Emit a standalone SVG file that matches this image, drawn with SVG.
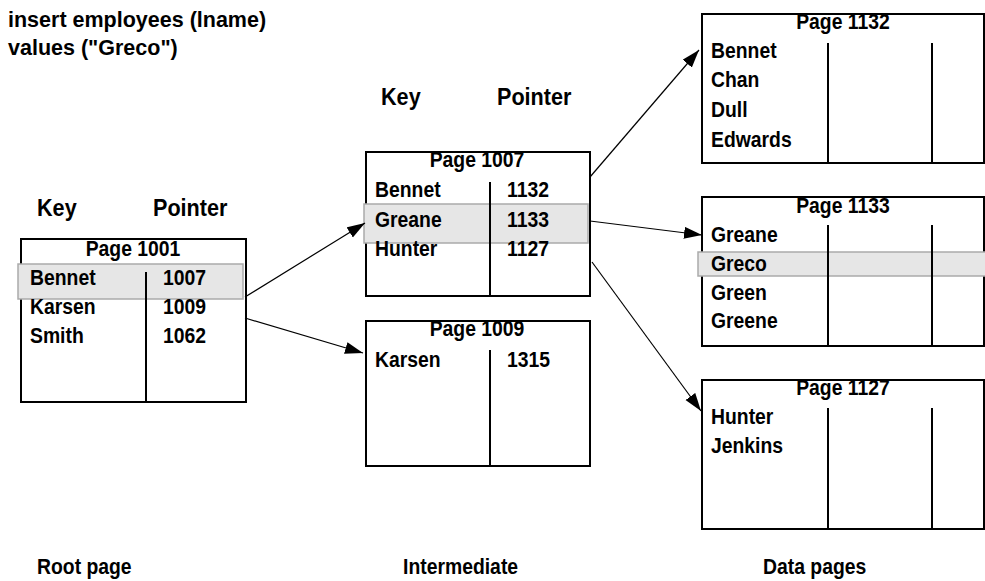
<svg xmlns="http://www.w3.org/2000/svg" width="985" height="581" viewBox="0 0 985 581">
  <defs>
    <marker id="arrow" markerUnits="userSpaceOnUse" markerWidth="20" markerHeight="14" refX="18" refY="6" orient="auto">
      <path d="M0,0 L18,6 L0,12 Z" fill="#000"/>
    </marker>
    <style>
      text { font-family: "Liberation Sans", Arial, sans-serif; font-weight: bold; font-size: 22px; fill: #000; }
      .stmt { font-size: 21.5px; }
      .head { font-size: 23px; }
      .title { text-anchor: middle; }
      .box { fill: #fff; stroke: #000; stroke-width: 2; }
      .div { stroke: #000; stroke-width: 2; }
      .hl { fill: #e6e6e6; stroke: #aaa; stroke-width: 1.5; }
      .conn { stroke: #000; stroke-width: 1.2; fill: none; marker-end: url(#arrow); }
    </style>
  </defs>
  <rect width="985" height="581" fill="#fff"/>

  <!-- statement being executed -->
  <g id="statement">
    <text class="stmt" x="8" y="27">insert employees (lname)</text>
    <text class="stmt" x="8" y="55">values ("Greco")</text>
  </g>

  <!-- column headings (condensed via horizontal scale) -->
  <g id="headings">
    <text class="head" transform="translate(37,216) scale(0.94,1)">Key</text>
    <text class="head" transform="translate(153,216) scale(0.94,1)">Pointer</text>
    <text class="head" transform="translate(381,105) scale(0.94,1)">Key</text>
    <text class="head" transform="translate(497,105) scale(0.94,1)">Pointer</text>
  </g>

  <!-- root page -->
  <g id="page1001">
    <rect class="box" x="21" y="239" width="225" height="163"/>
    <rect class="hl" x="18" y="264" width="225" height="35"/>
    <line class="div" x1="146" y1="272" x2="146" y2="402"/>
    <text class="title" transform="translate(133,256) scale(0.88,1)">Page 1001</text>
    <text transform="translate(30,285) scale(0.88,1)">Bennet</text><text transform="translate(163,285) scale(0.88,1)">1007</text>
    <text transform="translate(30,314) scale(0.88,1)">Karsen</text><text transform="translate(163,314) scale(0.88,1)">1009</text>
    <text transform="translate(30,343) scale(0.88,1)">Smith</text><text transform="translate(163,343) scale(0.88,1)">1062</text>
  </g>

  <!-- intermediate pages -->
  <g id="page1007">
    <rect class="box" x="366" y="152" width="224" height="144"/>
    <rect class="hl" x="364" y="204" width="224" height="39"/>
    <line class="div" x1="490" y1="182" x2="490" y2="297"/>
    <text class="title" transform="translate(477,167) scale(0.88,1)">Page 1007</text>
    <text transform="translate(375,197) scale(0.88,1)">Bennet</text><text transform="translate(507,197) scale(0.88,1)">1132</text>
    <text transform="translate(375,227) scale(0.88,1)">Greane</text><text transform="translate(507,227) scale(0.88,1)">1133</text>
    <text transform="translate(375,256) scale(0.88,1)">Hunter</text><text transform="translate(507,256) scale(0.88,1)">1127</text>
  </g>

  <g id="page1009">
    <rect class="box" x="366" y="321" width="224" height="145"/>
    <line class="div" x1="490" y1="350" x2="490" y2="466"/>
    <text class="title" transform="translate(477,336) scale(0.88,1)">Page 1009</text>
    <text transform="translate(375,367) scale(0.88,1)">Karsen</text><text transform="translate(507,367) scale(0.88,1)">1315</text>
  </g>

  <!-- data pages -->
  <g id="page1132">
    <rect class="box" x="702" y="14" width="282" height="149"/>
    <line class="div" x1="828" y1="43" x2="828" y2="163"/>
    <line class="div" x1="932" y1="43" x2="932" y2="163"/>
    <text class="title" transform="translate(843,29) scale(0.88,1)">Page 1132</text>
    <text transform="translate(711,58) scale(0.88,1)">Bennet</text>
    <text transform="translate(711,87) scale(0.88,1)">Chan</text>
    <text transform="translate(711,117) scale(0.88,1)">Dull</text>
    <text transform="translate(711,147) scale(0.88,1)">Edwards</text>
  </g>

  <g id="page1133">
    <rect class="box" x="702" y="197" width="282" height="149"/>
    <rect class="hl" x="698" y="252" width="290" height="24"/>
    <line class="div" x1="828" y1="225" x2="828" y2="346"/>
    <line class="div" x1="932" y1="225" x2="932" y2="346"/>
    <text class="title" transform="translate(843,213) scale(0.88,1)">Page 1133</text>
    <text transform="translate(711,242) scale(0.88,1)">Greane</text>
    <text transform="translate(711,271) scale(0.88,1)">Greco</text>
    <text transform="translate(711,300) scale(0.88,1)">Green</text>
    <text transform="translate(711,328) scale(0.88,1)">Greene</text>
  </g>

  <g id="page1127">
    <rect class="box" x="702" y="380" width="282" height="149"/>
    <line class="div" x1="828" y1="408" x2="828" y2="529"/>
    <line class="div" x1="932" y1="408" x2="932" y2="529"/>
    <text class="title" transform="translate(843,395) scale(0.88,1)">Page 1127</text>
    <text transform="translate(711,424) scale(0.88,1)">Hunter</text>
    <text transform="translate(711,453) scale(0.88,1)">Jenkins</text>
  </g>

  <!-- pointers between levels -->
  <g id="connectors">
    <line class="conn" x1="245" y1="297" x2="365" y2="223"/>
    <line class="conn" x1="245" y1="318" x2="363" y2="353"/>
    <line class="conn" x1="590" y1="177" x2="699" y2="50"/>
    <line class="conn" x1="590" y1="221" x2="702" y2="235"/>
    <line class="conn" x1="592" y1="262" x2="701" y2="411"/>
  </g>

  <!-- level captions -->
  <g id="captions">
    <text transform="translate(37,574) scale(0.88,1)">Root page</text>
    <text transform="translate(403,574) scale(0.88,1)">Intermediate</text>
    <text transform="translate(763,574) scale(0.88,1)">Data pages</text>
  </g>
</svg>
